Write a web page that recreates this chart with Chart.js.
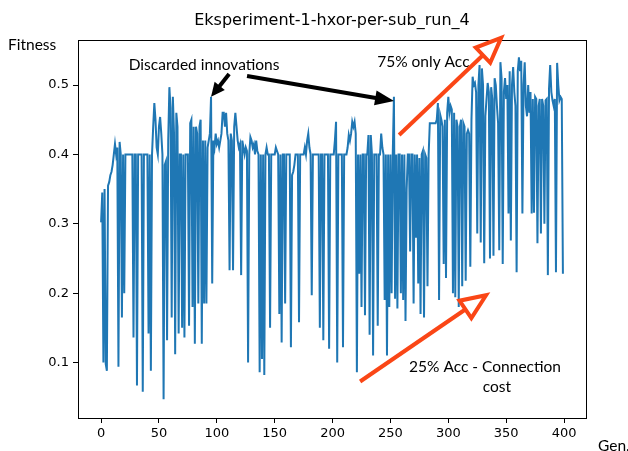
<!DOCTYPE html>
<html>
<head>
<meta charset="utf-8">
<script src="https://cdn.jsdelivr.net/npm/chart.js@4"></script>
<style>
  html, body { margin: 0; padding: 0; background: #fff; }
  #wrap { width: 628px; height: 451px; }
</style>
</head>
<body>
<div id="wrap"><canvas id="fitnessChart" width="628" height="451"></canvas></div>
<script>
// fitness per generation (0..399)
const fitness = [
  0.302, 0.345, 0.10, 0.35, 0.098, 0.088, 0.355, 0.36, 0.37, 0.375,
  0.385, 0.40, 0.415, 0.40, 0.41, 0.094, 0.418, 0.40, 0.165, 0.40,
  0.20, 0.40, 0.40, 0.40, 0.40, 0.40, 0.40, 0.40, 0.136, 0.40,
  0.40, 0.067, 0.40, 0.40, 0.40, 0.40, 0.058, 0.40, 0.40, 0.40,
  0.40, 0.142, 0.40, 0.088, 0.40, 0.44, 0.474, 0.45, 0.41, 0.40,
  0.44, 0.454, 0.43, 0.40, 0.047, 0.385, 0.39, 0.132, 0.42, 0.497,
  0.467, 0.165, 0.483, 0.43, 0.112, 0.46, 0.44, 0.142, 0.40, 0.40,
  0.15, 0.40, 0.136, 0.40, 0.40, 0.40, 0.153, 0.445, 0.45, 0.18,
  0.44, 0.127, 0.44, 0.43, 0.185, 0.44, 0.45, 0.127, 0.42, 0.185,
  0.42, 0.185, 0.41, 0.42, 0.43, 0.483, 0.214, 0.42, 0.41, 0.43,
  0.415, 0.42, 0.41, 0.42, 0.43, 0.46, 0.46, 0.44, 0.46, 0.43,
  0.42, 0.233, 0.43, 0.42, 0.233, 0.44, 0.46, 0.44, 0.42, 0.41,
  0.415, 0.226, 0.42, 0.41, 0.40, 0.41, 0.405, 0.10, 0.40, 0.425,
  0.42, 0.41, 0.415, 0.40, 0.42, 0.405, 0.40, 0.086, 0.40, 0.105,
  0.40, 0.082, 0.40, 0.41, 0.40, 0.40, 0.15, 0.40, 0.40, 0.40,
  0.40, 0.41, 0.405, 0.40, 0.17, 0.40, 0.129, 0.40, 0.40, 0.185,
  0.40, 0.40, 0.40, 0.40, 0.122, 0.37, 0.375, 0.385, 0.40, 0.40,
  0.40, 0.158, 0.40, 0.40, 0.40, 0.40, 0.41, 0.40, 0.42, 0.43,
  0.41, 0.40, 0.197, 0.40, 0.40, 0.40, 0.40, 0.40, 0.40, 0.15,
  0.40, 0.40, 0.132, 0.40, 0.40, 0.40, 0.40, 0.12, 0.40, 0.40,
  0.40, 0.40, 0.42, 0.447, 0.10, 0.40, 0.40, 0.40, 0.40, 0.122,
  0.40, 0.40, 0.40, 0.41, 0.428, 0.42, 0.43, 0.447, 0.44, 0.447,
  0.43, 0.086, 0.40, 0.228, 0.40, 0.18, 0.40, 0.40, 0.168, 0.40,
  0.40, 0.428, 0.14, 0.428, 0.40, 0.11, 0.40, 0.40, 0.40, 0.153,
  0.40, 0.40, 0.43, 0.41, 0.40, 0.19, 0.40, 0.11, 0.40, 0.18,
  0.40, 0.20, 0.40, 0.483, 0.192, 0.40, 0.178, 0.40, 0.40, 0.20,
  0.40, 0.19, 0.40, 0.16, 0.35, 0.40, 0.40, 0.26, 0.40, 0.40,
  0.185, 0.40, 0.28, 0.40, 0.214, 0.395, 0.17, 0.40, 0.405, 0.165,
  0.40, 0.395, 0.21, 0.40, 0.445, 0.445, 0.445, 0.445, 0.445, 0.445,
  0.45, 0.474, 0.19, 0.457, 0.45, 0.44, 0.242, 0.45, 0.222, 0.46,
  0.483, 0.46, 0.47, 0.465, 0.20, 0.46, 0.194, 0.45, 0.44, 0.18,
  0.44, 0.45, 0.21, 0.445, 0.44, 0.218, 0.43, 0.435, 0.43, 0.238,
  0.45, 0.512, 0.50, 0.503, 0.49, 0.286, 0.50, 0.529, 0.273, 0.524,
  0.50, 0.243, 0.455, 0.48, 0.503, 0.49, 0.25, 0.497, 0.48, 0.254,
  0.51, 0.50, 0.47, 0.445, 0.262, 0.533, 0.51, 0.242, 0.49, 0.51,
  0.48, 0.50, 0.315, 0.52, 0.276, 0.50, 0.526, 0.49, 0.47, 0.23,
  0.52, 0.54, 0.52, 0.535, 0.315, 0.50, 0.533, 0.47, 0.455, 0.50,
  0.46, 0.49, 0.315, 0.48, 0.316, 0.483, 0.48, 0.272, 0.47, 0.48,
  0.286, 0.48, 0.47, 0.30, 0.478, 0.48, 0.226, 0.495, 0.529, 0.49,
  0.478, 0.47, 0.48, 0.23, 0.532, 0.50, 0.478, 0.483, 0.48, 0.228
];
const generations = fitness.map((_, i) => i);

const xTicks = [0, 50, 100, 150, 200, 250, 300, 350, 400];
const yTicks = [0.1, 0.2, 0.3, 0.4, 0.5];

const chartTitle = "Eksperiment-1-hxor-per-sub_run_4";
const yLabel = "Fitness";
const xLabel = "Gen.";

// annotation arrows and notes, in data units (generation, fitness)
const arrows = [
  { from: [110.6, 0.516], to: [95.0, 0.483], color: "#000000", width: 4, head: 14, headW: 13, hollow: false },
  { from: [126.1, 0.513], to: [253.1, 0.477], color: "#000000", width: 4, head: 19, headW: 15, hollow: false },
  { from: [257.5, 0.428], to: [345.6, 0.568], color: "#fa4616", width: 4, head: 25, headW: 21, hollow: true },
  { from: [223.8, 0.0726], to: [332.6, 0.197], color: "#fa4616", width: 4, head: 25, headW: 21, hollow: true }
];
const notes = [
  { text: "Discarded innovations", at: [89.0, 0.529] },
  { text: "75% only Acc.", at: [280.0, 0.533] },
  { text: "25% Acc - Connection", at: [331.7, 0.093] },
  { text: "cost", at: [342.0, 0.064] }
];

function drawArrow(ctx, x1, y1, x2, y2, a) {
  const ang = Math.atan2(y2 - y1, x2 - x1);
  const cos = Math.cos(ang), sin = Math.sin(ang);
  const bx = x2 - a.head * cos, by = y2 - a.head * sin;
  ctx.save();
  ctx.strokeStyle = a.color;
  ctx.fillStyle = a.color;
  ctx.lineWidth = a.width;
  ctx.lineCap = "butt";
  ctx.beginPath();
  ctx.moveTo(x1, y1);
  ctx.lineTo(bx + 2 * cos, by + 2 * sin);
  ctx.stroke();
  const px = -sin * a.headW / 2, py = cos * a.headW / 2;
  ctx.beginPath();
  ctx.moveTo(x2, y2);
  ctx.lineTo(bx + px, by + py);
  ctx.lineTo(bx - px, by - py);
  ctx.closePath();
  if (a.hollow) {
    ctx.fillStyle = "#ffffff";
    ctx.fill();
    ctx.lineJoin = "miter";
    ctx.stroke();
  } else {
    ctx.fill();
  }
  ctx.restore();
}

const decorPlugin = {
  id: "decor",
  afterDatasetsDraw(chart) {
    const { ctx, chartArea: ca } = chart;
    ctx.save();
    ctx.strokeStyle = "#000";
    ctx.lineWidth = 1;
    ctx.strokeRect(ca.left + 0.5, ca.top + 0.5, ca.right - ca.left, ca.bottom - ca.top);
    ctx.restore();
  },
  afterDraw(chart) {
    const { ctx, chartArea: ca, scales } = chart;
    const X = v => scales.x.getPixelForValue(v);
    const Y = v => scales.y.getPixelForValue(v);

    ctx.save();
    ctx.fillStyle = "#000";
    ctx.textBaseline = "middle";

    ctx.font = "16px 'DejaVu Sans'";
    ctx.textAlign = "center";
    ctx.fillText(chartTitle, (ca.left + ca.right) / 2, 21);

    ctx.font = "15.5px Lato";
    ctx.textAlign = "left";
    ctx.fillText(yLabel, 8, 45);
    ctx.fillText(xLabel, 598, 446);

    ctx.textAlign = "center";
    notes.forEach(n => ctx.fillText(n.text, X(n.at[0]), Y(n.at[1])));
    ctx.restore();

    arrows.forEach(a => drawArrow(ctx, X(a.from[0]), Y(a.from[1]), X(a.to[0]), Y(a.to[1]), a));
  }
};

const tickFont = { family: "'DejaVu Sans'", size: 13 };

new Chart(document.getElementById("fitnessChart"), {
  type: "line",
  data: {
    datasets: [{
      data: generations.map((g, i) => ({ x: g, y: fitness[i] })),
      borderColor: "#1f77b4",
      borderWidth: 2,
      pointRadius: 0,
      tension: 0,
      fill: false
    }]
  },
  options: {
    responsive: false,
    animation: false,
    layout: { padding: { left: 0, right: 42, top: 40, bottom: 0 } },
    plugins: {
      legend: { display: false },
      title: { display: false },
      tooltip: { enabled: false }
    },
    scales: {
      x: {
        type: "linear",
        min: -19.95,
        max: 418.95,
        afterBuildTicks: axis => { axis.ticks = xTicks.map(v => ({ value: v })); },
        afterFit: axis => { axis.height = 33; },
        grid: { display: true, drawOnChartArea: false, drawTicks: true, tickLength: 5, color: "#000" },
        border: { display: false },
        ticks: { color: "#000", font: tickFont, padding: 3, maxRotation: 0, autoSkip: false }
      },
      y: {
        type: "linear",
        min: 0.02,
        max: 0.565,
        afterBuildTicks: axis => { axis.ticks = yTicks.map(v => ({ value: v })); },
        afterFit: axis => { axis.width = 78; },
        grid: { display: true, drawOnChartArea: false, drawTicks: true, tickLength: 5, color: "#000" },
        border: { display: false },
        ticks: { color: "#000", font: tickFont, padding: 4, autoSkip: false, callback: v => v.toFixed(1) }
      }
    }
  },
  plugins: [decorPlugin]
});
</script>
</body>
</html>
